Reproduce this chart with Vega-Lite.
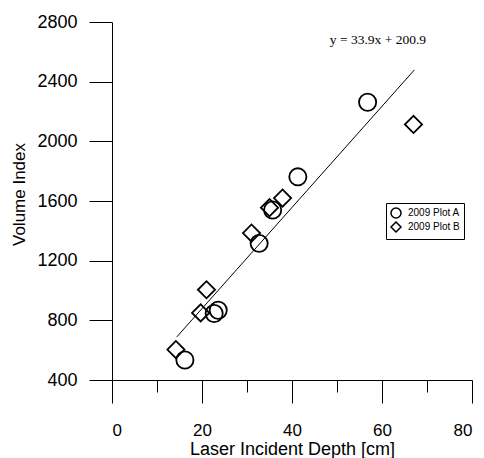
{
  "$schema": "https://vega.github.io/schema/vega-lite/v6.json",
  "width": 360,
  "height": 358,
  "autosize": {"type": "none"},
  "padding": {"left": 112, "top": 22, "right": 12, "bottom": 78},
  "background": "white",
  "config": {
    "view": {"stroke": null},
    "font": "Liberation Sans",
    "axis": {"grid": false, "domainColor": "black", "tickColor": "black", "labelColor": "black", "titleColor": "black", "titleFontWeight": "normal", "labelFont": "Liberation Sans", "titleFont": "Liberation Sans"}
  },
  "datasets": {
    "points": [
      {"depth": 16.2, "volume": 534, "series": "2009 Plot A"},
      {"depth": 22.7, "volume": 846, "series": "2009 Plot A"},
      {"depth": 23.6, "volume": 868, "series": "2009 Plot A"},
      {"depth": 32.7, "volume": 1316, "series": "2009 Plot A"},
      {"depth": 35.7, "volume": 1540, "series": "2009 Plot A"},
      {"depth": 41.3, "volume": 1762, "series": "2009 Plot A"},
      {"depth": 56.8, "volume": 2262, "series": "2009 Plot A"},
      {"depth": 14.2, "volume": 604, "series": "2009 Plot B"},
      {"depth": 19.7, "volume": 850, "series": "2009 Plot B"},
      {"depth": 21.0, "volume": 1005, "series": "2009 Plot B"},
      {"depth": 31.0, "volume": 1385, "series": "2009 Plot B"},
      {"depth": 35.0, "volume": 1555, "series": "2009 Plot B"},
      {"depth": 37.9, "volume": 1620, "series": "2009 Plot B"},
      {"depth": 67.0, "volume": 2113, "series": "2009 Plot B"}
    ],
    "fit": [
      {"depth": 14.4, "volume": 689},
      {"depth": 67.2, "volume": 2479}
    ],
    "label": [
      {"depth": 59.1, "volume": 2678, "text": "y = 33.9x + 200.9"}
    ]
  },
  "layer": [
    {
      "data": {"name": "fit"},
      "mark": {"type": "line", "color": "black", "strokeWidth": 1},
      "encoding": {
        "x": {"field": "depth", "type": "quantitative", "scale": {"domain": [0, 80], "nice": false, "zero": false},
          "axis": {"values": [0, 10, 20, 30, 40, 50, 60, 70, 80], "format": "d", "title": "Laser Incident Depth [cm]", "titleFontSize": 18, "labelFontSize": 17,
            "tickSize": {"condition": {"test": "datum.value % 20 === 0", "value": 23}, "value": 12},
            "labelExpr": "datum.value % 20 === 0 ? datum.label : ''", "labelPadding": 19, "titleY": 74, "titleBaseline": "alphabetic"}},
        "y": {"field": "volume", "type": "quantitative", "scale": {"domain": [400, 2800], "nice": false, "zero": false},
          "axis": {"values": [400, 600, 800, 1000, 1200, 1400, 1600, 1800, 2000, 2200, 2400, 2600, 2800], "format": "d", "title": "Volume Index", "titleFontSize": 17, "labelFontSize": 18,
            "tickSize": {"condition": {"test": "datum.value % 400 === 0", "value": 23}, "value": 11},
            "labelExpr": "datum.value % 400 === 0 ? datum.label : ''", "labelPadding": 12, "titleX": -92.5, "titleY": 172, "titleBaseline": "middle"}}
      }
    },
    {
      "data": {"name": "points"},
      "mark": {"type": "point", "filled": false, "strokeWidth": 1.8, "opacity": 1, "size": 295},
      "encoding": {
        "x": {"field": "depth", "type": "quantitative"},
        "y": {"field": "volume", "type": "quantitative"},
        "shape": {"field": "series", "type": "nominal", "scale": {"domain": ["2009 Plot A", "2009 Plot B"], "range": ["circle", "diamond"]},
          "legend": {"title": null, "orient": "none", "legendX": 274, "legendY": 181, "strokeColor": "black", "fillColor": "white", "padding": 4, "symbolSize": 100, "symbolStrokeWidth": 1.5, "symbolStrokeColor": "black", "labelFontSize": 10, "labelFont": "Liberation Sans", "labelColor": "black", "rowPadding": -4, "labelOffset": 6,
            "symbolLimit": 0}},
        "color": {"value": "black"}
      }
    },
    {
      "data": {"name": "label"},
      "mark": {"type": "text", "font": "Liberation Serif", "fontSize": 13.5, "color": "black", "align": "center", "baseline": "middle"},
      "encoding": {
        "x": {"field": "depth", "type": "quantitative"},
        "y": {"field": "volume", "type": "quantitative"},
        "text": {"field": "text"}
      }
    }
  ]
}
